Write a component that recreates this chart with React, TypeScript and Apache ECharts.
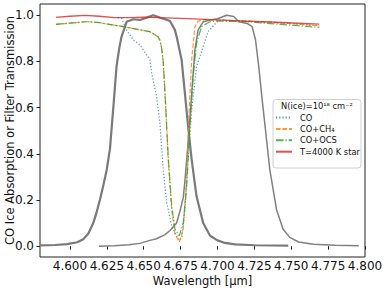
import React, { useEffect, useRef } from "react";
import * as echarts from "echarts";

// ---- data ----
const xTicks = [4.6, 4.625, 4.65, 4.675, 4.7, 4.725, 4.75, 4.775, 4.8];
const yTicks = [0, 0.2, 0.4, 0.6, 0.8, 1.0];

const filter1Wl = [4.5797, 4.59, 4.598, 4.605, 4.609, 4.6125, 4.6158, 4.618, 4.6203, 4.6225, 4.6249, 4.6271, 4.6294, 4.6316, 4.6335, 4.635, 4.6384, 4.643, 4.6474, 4.652, 4.6564, 4.661, 4.6645, 4.6678, 4.6711, 4.6723, 4.6757, 4.6779, 4.6801, 4.6825, 4.6858, 4.6903, 4.695, 4.7, 4.705, 4.712, 4.725, 4.748];
const filter1Val = [0.003, 0.005, 0.009, 0.017, 0.03, 0.055, 0.1, 0.145, 0.2, 0.26, 0.33, 0.42, 0.6, 0.78, 0.86, 0.908, 0.972, 0.983, 0.98, 0.99, 1.0, 0.99, 0.983, 0.975, 0.937, 0.908, 0.807, 0.664, 0.519, 0.375, 0.216, 0.1, 0.045, 0.025, 0.014, 0.008, 0.004, 0.002];

const filter2Wl = [4.6197, 4.63, 4.64, 4.6474, 4.6542, 4.6587, 4.6645, 4.6678, 4.6723, 4.6745, 4.6768, 4.6779, 4.6801, 4.6825, 4.6847, 4.6869, 4.6903, 4.695, 4.7, 4.7063, 4.711, 4.7145, 4.7201, 4.7235, 4.7258, 4.728, 4.7303, 4.7326, 4.7355, 4.74, 4.7445, 4.749, 4.755, 4.765, 4.78, 4.7958];
const filter2Val = [0.0, 0.002, 0.006, 0.012, 0.025, 0.032, 0.05, 0.068, 0.1, 0.15, 0.21, 0.28, 0.45, 0.66, 0.85, 0.937, 0.972, 0.98, 0.985, 1.0, 0.995, 0.972, 0.965, 0.951, 0.893, 0.778, 0.634, 0.5, 0.33, 0.159, 0.073, 0.038, 0.018, 0.008, 0.004, 0.002];

const coWl = [4.6325, 4.635, 4.6384, 4.6429, 4.6474, 4.652, 4.6542, 4.6554, 4.6587, 4.661, 4.6632, 4.6655, 4.6666, 4.6689, 4.6711, 4.6732, 4.6745, 4.6759, 4.6779, 4.6801, 4.6825, 4.6858, 4.6903, 4.6937, 4.6994, 4.7016, 4.72, 4.74, 4.769];
const coVal = [0.99, 0.987, 0.937, 0.893, 0.872, 0.828, 0.807, 0.749, 0.65, 0.53, 0.332, 0.19, 0.159, 0.087, 0.058, 0.035, 0.025, 0.04, 0.159, 0.375, 0.59, 0.778, 0.864, 0.93, 0.97, 0.978, 0.975, 0.968, 0.955];

const ch4Wl = [4.5905, 4.6, 4.6102, 4.6136, 4.62, 4.6361, 4.645, 4.6542, 4.6596, 4.661, 4.6621, 4.6632, 4.6644, 4.6655, 4.6666, 4.6689, 4.6711, 4.6741, 4.6768, 4.679, 4.6808, 4.6825, 4.6847, 4.6869, 4.69, 4.7, 4.72, 4.74, 4.769];
const ch4Val = [0.961, 0.966, 0.972, 0.972, 0.968, 0.951, 0.94, 0.929, 0.908, 0.89, 0.86, 0.8, 0.663, 0.52, 0.375, 0.16, 0.055, 0.018, 0.073, 0.303, 0.59, 0.807, 0.951, 0.975, 0.98, 0.98, 0.975, 0.968, 0.955];

const ocsWl = [4.5905, 4.6, 4.6102, 4.6136, 4.62, 4.6361, 4.645, 4.6542, 4.6596, 4.661, 4.6621, 4.6632, 4.6644, 4.6655, 4.6666, 4.6689, 4.6711, 4.6741, 4.6768, 4.679, 4.6813, 4.6835, 4.6858, 4.6892, 4.6949, 4.7, 4.72, 4.74, 4.769];
const ocsVal = [0.961, 0.966, 0.972, 0.972, 0.968, 0.951, 0.94, 0.929, 0.908, 0.893, 0.86, 0.8, 0.67, 0.53, 0.39, 0.18, 0.075, 0.044, 0.1, 0.245, 0.519, 0.735, 0.879, 0.951, 0.972, 0.975, 0.972, 0.962, 0.948];

const starWl = [4.5905, 4.6, 4.6102, 4.62, 4.63, 4.64, 4.65, 4.66, 4.68, 4.7, 4.72, 4.74, 4.769];
const starVal = [0.991, 0.996, 1.0, 0.996, 0.99, 0.99, 0.992, 0.99, 0.986, 0.98, 0.975, 0.97, 0.962];

const seriesNames = ["CO", "CO+CH\u2084", "CO+OCS", "T=4000 K star"];
const legendTitle = "N(ice)=10\u00b9\u2078 cm\u207b\u00b2";

const zip = (xs: number[], ys: number[]) => xs.map((x, i) => [x, ys[i]]);

const FONT = "DejaVu Sans";

export default function App() {
  const ref = useRef<HTMLDivElement>(null);
  useEffect(() => {
    if (!ref.current) return;
    const chart = echarts.init(ref.current, undefined, { renderer: "svg" });
    const lineBase = { type: "line", symbol: "none", showSymbol: false, smooth: false, z: 3 };
    chart.setOption({
      animation: false,
      backgroundColor: "#fff",
      grid: {
        left: 40,
        right: 21,
        top: 4,
        bottom: 35,
        show: true,
        borderColor: "#222",
        borderWidth: 1,
        backgroundColor: "transparent",
        containLabel: false,
        outerBoundsMode: "none",
      },
      xAxis: {
        type: "value",
        min: 4.5797,
        max: 4.8,
        name: "Wavelength [\u03bcm]",
        nameLocation: "middle",
        nameGap: 17.5,
        nameMoveOverlap: false,
        nameTextStyle: { fontFamily: FONT, fontSize: 11.5, color: "#111", verticalAlign: "top" },
        axisLine: { show: false },
        splitLine: { show: false },
        axisTick: { show: true, inside: false, length: 3.5, lineStyle: { color: "#222" }, customValues: xTicks },
        axisLabel: {
          customValues: xTicks,
          formatter: (v: number) => v.toFixed(3),
          fontFamily: FONT,
          fontSize: 12,
          color: "#111",
          margin: 3,
          hideOverlap: false,
        },
      },
      yAxis: {
        type: "value",
        min: -0.047,
        max: 1.049,
        name: "CO Ice Absorption or Filter Transmission",
        nameLocation: "middle",
        nameRotate: 90,
        nameGap: 24,
        nameMoveOverlap: false,
        nameTextStyle: { fontFamily: FONT, fontSize: 11.5, color: "#111", verticalAlign: "bottom" },
        axisLine: { show: false },
        splitLine: { show: false },
        axisTick: { show: true, inside: false, length: 3.5, lineStyle: { color: "#222" }, customValues: yTicks },
        axisLabel: {
          customValues: yTicks,
          formatter: (v: number) => v.toFixed(1),
          fontFamily: FONT,
          fontSize: 12,
          color: "#111",
          margin: 6,
        },
      },
      legend: {
        data: seriesNames,
        orient: "vertical",
        left: 275,
        top: 113.5,
        itemWidth: 16,
        itemHeight: 8,
        itemGap: 3.4,
        padding: 0,
        z: 30,
        itemStyle: { opacity: 0 },
        textStyle: { fontFamily: FONT, fontSize: 8.3, color: "#111", padding: [0, 0, 0, 3] },
      },
      graphic: [
        {
          type: "rect",
          z: 20,
          shape: { x: 273, y: 99.5, width: 88, height: 68.5, r: 3 },
          style: { fill: "rgba(255,255,255,0.85)", stroke: "#d0d0d0", lineWidth: 1 },
        },
        {
          type: "text",
          z: 25,
          x: 317,
          y: 105.5,
          style: {
            text: legendTitle,
            fontFamily: FONT,
            fontSize: 8.3,
            fill: "#111",
            align: "center",
            verticalAlign: "middle",
          },
        },
      ],
      series: [
        {
          ...lineBase,
          name: "filter1",
          data: zip(filter1Wl, filter1Val),
          lineStyle: { color: "#7a7a7a", width: 2.2 },
          z: 2,
        },
        {
          ...lineBase,
          name: "filter2",
          data: zip(filter2Wl, filter2Val),
          lineStyle: { color: "#808080", width: 1.5 },
          z: 2,
        },
        {
          ...lineBase,
          name: seriesNames[0],
          data: zip(coWl, coVal),
          itemStyle: { color: "rgba(31,119,180,0.8)" },
          lineStyle: { color: "rgba(31,119,180,0.8)", width: 1.2, type: [1.2, 2] },
        },
        {
          ...lineBase,
          name: seriesNames[1],
          data: zip(ch4Wl, ch4Val),
          itemStyle: { color: "rgba(255,127,14,0.8)" },
          lineStyle: { color: "rgba(255,127,14,0.8)", width: 1.2, type: [4.5, 2] },
        },
        {
          ...lineBase,
          name: seriesNames[2],
          data: zip(ocsWl, ocsVal),
          itemStyle: { color: "rgba(44,160,44,0.8)" },
          lineStyle: { color: "rgba(44,160,44,0.8)", width: 1.2, type: [7.5, 2, 1.2, 2] },
        },
        {
          ...lineBase,
          name: seriesNames[3],
          data: zip(starWl, starVal),
          itemStyle: { color: "rgba(214,39,40,0.8)" },
          lineStyle: { color: "rgba(214,39,40,0.8)", width: 1.3 },
        },
      ],
    });
    return () => chart.dispose();
  }, []);
  return (
    <div
      ref={ref}
      style={{ position: "fixed", left: 0, top: 0, width: 386, height: 292, background: "#fff" }}
    />
  );
}
